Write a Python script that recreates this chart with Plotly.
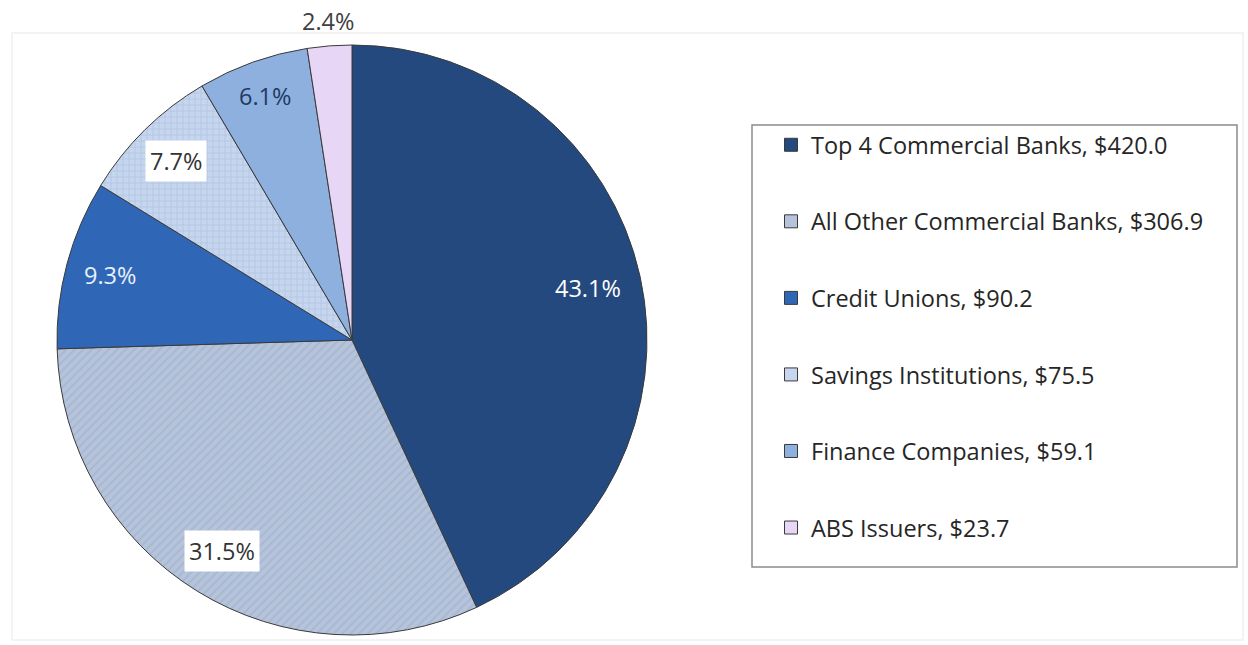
import math
import plotly.graph_objects as go

# ---- data ----
categories = ["Top 4 Commercial Banks", "All Other Commercial Banks", "Credit Unions",
              "Savings Institutions", "Finance Companies", "ABS Issuers"]
values = [420.0, 306.9, 90.2, 75.5, 59.1, 23.7]
pct_labels = ["43.1%", "31.5%", "9.3%", "7.7%", "6.1%", "2.4%"]

# ---- styles ----
colors = ["#24497e", "#b5c3db", "#2f67b6", "#c6d6ee", "#8db0df", "#e7d6f6"]
pattern_shapes = ["", "/", "", "+", "", ""]
pattern_fg = ["#24497e", "#a8b7d1", "#2f67b6", "#b4c7e5", "#8db0df", "#e7d6f6"]
label_colors = ["white", "#333333", "#e8f0fb", "#333333", "#1f3a64", "#404040"]
label_bg = [None, "white", None, "white", None, None]
label_r = [0.82, 0.84, 0.85, 0.85, 0.88, 1.085]

W, H = 1248, 645
OX, OY = 0, 0          # body margin removed below, so the plot starts at the page corner
cx, cy, R = 352, 340, 295   # pixel geometry of the pie
FONT = "'Open Sans', sans-serif"


def px2x(p):
    return (p - OX) / W


def py2y(p):
    return 1 - (p - OY) / H


fig = go.Figure()
fig.add_trace(go.Pie(
    labels=categories, values=values, sort=False, direction="clockwise",
    rotation=0, textinfo="none", hoverinfo="label+value+percent", showlegend=False,
    marker=dict(colors=colors, line=dict(color="#3a3a3a", width=1),
                pattern=dict(shape=pattern_shapes, fgcolor=pattern_fg, size=6,
                             solidity=0.3, fillmode="replace", bgcolor=colors)),
    domain=dict(x=[px2x(cx - R), px2x(cx + R)], y=[py2y(cy + R), py2y(cy - R)]),
))

# legend entries through dummy traces (one legend group each, for spacing)
for i, (c, v) in enumerate(zip(categories, values)):
    fig.add_trace(go.Scatter(
        x=[None], y=[None], mode="markers", name=f"{c}, ${v:.1f}",
        legendgroup=f"g{i}",
        marker=dict(symbol="square", size=13, color=colors[i],
                    line=dict(color="#3a3a3a", width=1)),
    ))

# percentage labels placed at each slice's mid-angle
total = sum(values)
cum = 0.0
for i, v in enumerate(values):
    mid = (cum + v / 2) / total * 2 * math.pi
    cum += v
    lx = cx + label_r[i] * R * math.sin(mid)
    ly = cy - label_r[i] * R * math.cos(mid)
    ann = dict(x=px2x(lx), y=py2y(ly), xref="paper", yref="paper", text=pct_labels[i],
               xanchor="center", yanchor="middle", showarrow=False,
               font=dict(family=FONT, size=23.5, color=label_colors[i]))
    if label_bg[i]:
        ann.update(bgcolor=label_bg[i], borderpad=4)
    fig.add_annotation(**ann)

# outer faint frame and legend box
fig.add_shape(type="rect", xref="paper", yref="paper",
              x0=px2x(12), x1=px2x(1243), y0=py2y(640), y1=py2y(33),
              line=dict(color="#f0f0f0", width=1.5), layer="below")
fig.add_shape(type="rect", xref="paper", yref="paper",
              x0=px2x(752), x1=px2x(1237), y0=py2y(567), y1=py2y(125),
              line=dict(color="#8c8c8c", width=1.5), layer="below")

fig.update_layout(
    width=W, height=H, margin=dict(l=0, r=0, t=0, b=0),
    paper_bgcolor="white", plot_bgcolor="white",
    xaxis=dict(visible=False), yaxis=dict(visible=False),
    legend=dict(x=px2x(771), y=py2y(123), xanchor="left", yanchor="top",
                font=dict(family=FONT, size=23.5, color="#262626"),
                tracegroupgap=43, bgcolor="rgba(0,0,0,0)", borderwidth=0,
                itemclick=False, itemdoubleclick=False),
)

fig.write_html("out.html", config={"displayModeBar": False},
               post_script="document.body.style.margin='0px';document.body.style.overflow='hidden';")
